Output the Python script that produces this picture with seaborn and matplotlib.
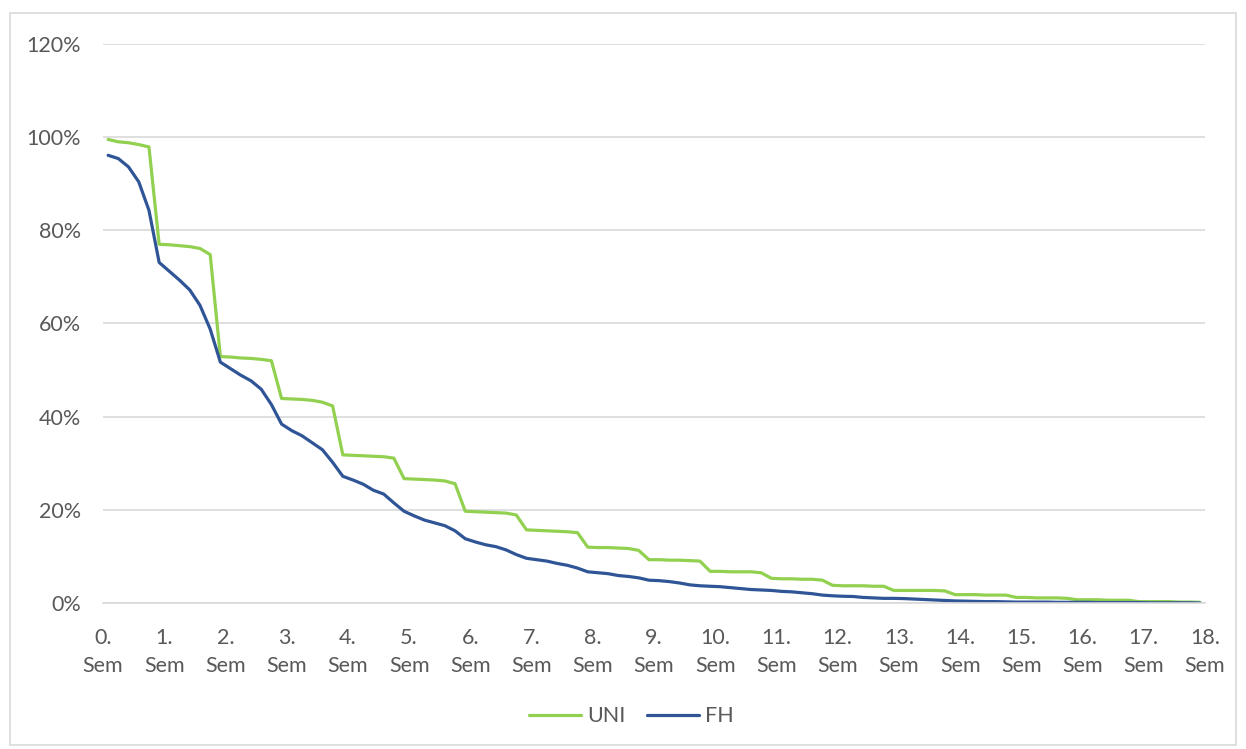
import matplotlib
matplotlib.use("Agg")
import matplotlib.pyplot as plt
import seaborn as sns
import pandas as pd
from matplotlib.patches import Rectangle

# share of students still enrolled (%), 6 points per semester
uni = [
    99.5, 99.0, 98.8, 98.4, 97.9,
    77.0, 76.9, 76.7, 76.5, 76.1, 74.8,
    52.9, 52.8, 52.6, 52.5, 52.3, 52.0,
    43.9, 43.8, 43.7, 43.5, 43.1, 42.3,
    31.8, 31.7, 31.6, 31.5, 31.4, 31.1,
    26.7, 26.6, 26.5, 26.4, 26.2, 25.6,
    19.7, 19.6, 19.5, 19.4, 19.3, 18.9,
    15.7, 15.6, 15.5, 15.4, 15.3, 15.1,
    12.0, 11.9, 11.9, 11.8, 11.7, 11.3,
    9.3, 9.3, 9.2, 9.2, 9.1, 9.0,
    6.8, 6.8, 6.7, 6.7, 6.7, 6.5,
    5.3, 5.2, 5.2, 5.1, 5.1, 4.9,
    3.8, 3.7, 3.7, 3.7, 3.6, 3.6,
    2.7, 2.7, 2.7, 2.7, 2.7, 2.6,
    1.8, 1.8, 1.8, 1.7, 1.7, 1.7,
    1.2, 1.2, 1.1, 1.1, 1.1, 1.0,
    0.7, 0.7, 0.7, 0.6, 0.6, 0.6,
    0.3, 0.3, 0.3, 0.3, 0.2, 0.2,
    0.15,
]
fh = [
    96.1, 95.4, 93.6, 90.4, 84.3,
    73.1, 71.2, 69.3, 67.2, 63.9, 58.8,
    51.7, 50.3, 48.9, 47.7, 45.9, 42.6,
    38.4, 37.0, 35.9, 34.4, 32.9, 30.2,
    27.2, 26.4, 25.5, 24.2, 23.4, 21.5,
    19.7, 18.7, 17.8, 17.2, 16.6, 15.5,
    13.8, 13.1, 12.5, 12.1, 11.4, 10.4,
    9.6, 9.3, 9.0, 8.5, 8.1, 7.5,
    6.7, 6.5, 6.3, 5.9, 5.7, 5.4,
    4.9, 4.8, 4.6, 4.3, 3.9, 3.7,
    3.6, 3.5, 3.3, 3.1, 2.9, 2.8,
    2.7, 2.5, 2.4, 2.2, 2.0, 1.7,
    1.55, 1.45, 1.4, 1.2, 1.1, 1.0,
    1.0, 0.95, 0.85, 0.75, 0.65, 0.55,
    0.45, 0.4, 0.35, 0.3, 0.3, 0.25,
    0.2, 0.2, 0.2, 0.2, 0.15, 0.15,
    0.15, 0.15, 0.1, 0.1, 0.1, 0.1,
    0.1, 0.05, 0.05, 0.05, 0.05, 0.05,
    0.0,
]
semesters = list(range(19))
sem_labels = [f"{s}.\nSem" for s in semesters]
pct_ticks = [0, 20, 40, 60, 80, 100, 120]

points_per_sem = 6
x = [(i + 0.5) / points_per_sem for i in range(len(uni))]
df = pd.DataFrame({
    "x": x * 2,
    "value": uni + fh,
    "type": ["UNI"] * len(uni) + ["FH"] * len(fh),
})

sns.set_style("white")
plt.rcParams["font.family"] = ["Lato", "DejaVu Sans"]
text_col = "#595959"
grid_col = "#d9d9d9"
fs = 15.5

fig, ax = plt.subplots(figsize=(12.46, 7.49), dpi=100)
fig.subplots_adjust(left=0.0827, right=0.9671, top=0.9413, bottom=0.1949)

sns.lineplot(data=df, x="x", y="value", hue="type", ax=ax,
             palette={"UNI": "#92D050", "FH": "#2F5597"}, linewidth=2.3, legend=False)

ax.set_xlim(0, 18)
ax.set_ylim(0, 120)
ax.set_yticks(pct_ticks)
ax.set_yticklabels([f"{p}%" for p in pct_ticks])
ax.set_xticks(semesters)
ax.set_xticklabels(sem_labels, linespacing=1.5)
ax.grid(axis="y", color=grid_col, linewidth=1.2)
ax.set_axisbelow(True)
for side in ["top", "right", "left"]:
    ax.spines[side].set_visible(False)
ax.spines["bottom"].set_color(grid_col)
ax.spines["bottom"].set_linewidth(1.2)
ax.tick_params(axis="x", direction="in", length=6, color=grid_col, width=1.2,
               labelsize=fs, labelcolor=text_col, pad=18)
ax.tick_params(axis="y", length=0, labelsize=fs, labelcolor=text_col, pad=16)
ax.set_xlabel("")
ax.set_ylabel("")

handles = [plt.Line2D([], [], color="#92D050", lw=2.3),
           plt.Line2D([], [], color="#2F5597", lw=2.3)]
fig.legend(handles, ["UNI", "FH"], loc="center", bbox_to_anchor=(0.507, 0.044),
           ncol=2, frameon=False, fontsize=fs, labelcolor=text_col,
           handlelength=2.4, handletextpad=0.3, columnspacing=1.0)

fig.patches.append(Rectangle((10 / 1246, 4 / 749), 1226 / 1246, 732 / 749,
                             transform=fig.transFigure, fill=False,
                             edgecolor=grid_col, linewidth=1.2))

fig.savefig("out.png", dpi=100)
